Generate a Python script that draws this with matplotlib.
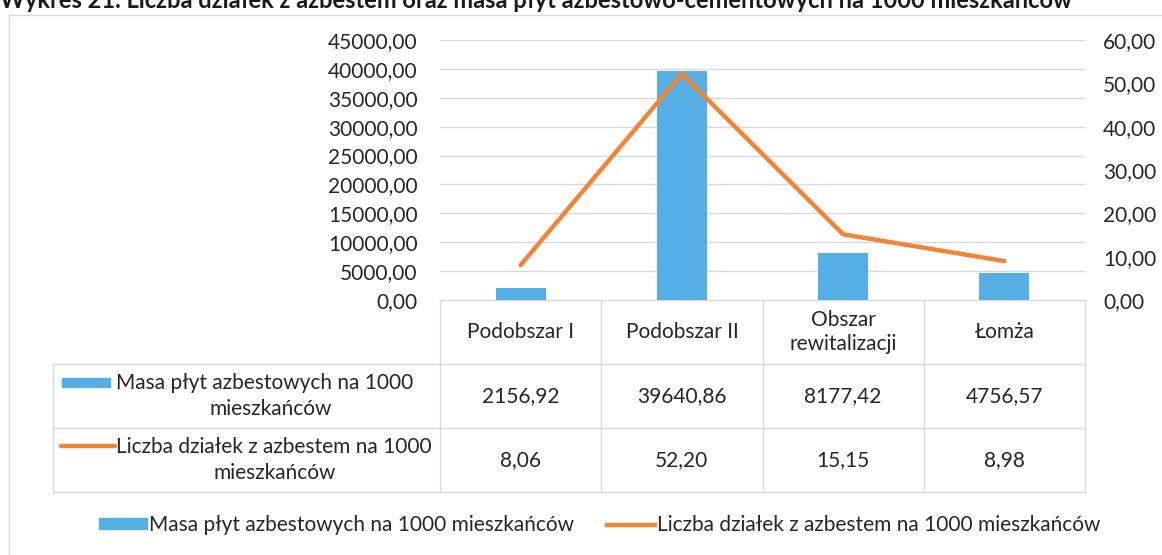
import matplotlib.pyplot as plt
from matplotlib.lines import Line2D
from matplotlib.patches import Patch, Rectangle

categories = ["Podobszar I", "Podobszar II", "Obszar\nrewitalizacji", "Łomża"]
masa = [2156.92, 39640.86, 8177.42, 4756.57]
dzialki = [8.06, 52.20, 15.15, 8.98]
masa_label = "Masa płyt azbestowych na 1000 mieszkańców"
dzialki_label = "Liczba działek z azbestem na 1000 mieszkańców"
title = ("Wykres 21. Liczba działek z azbestem oraz masa płyt "
         "azbestowo-cementowych na 1000 mieszkańców")

BLUE = "#55aee4"
ORANGE = "#ef8535"
GRID = "#d9d9d9"
TXT = "#262626"
W, H = 1162, 555

plt.rcParams["font.family"] = ["Lato", "DejaVu Sans"]
plt.rcParams["font.size"] = 15


def fmt(v):
    return f"{v:.2f}".replace(".", ",")


fig = plt.figure(figsize=(W / 100, H / 100), dpi=100)

# plot area in pixels
left, right, top, bottom = 440, 1085, 40, 300
ax = fig.add_axes([left / W, 1 - bottom / H, (right - left) / W, (bottom - top) / H])
x = range(len(categories))
ax.bar(x, masa, width=0.31, color=BLUE, zorder=2)
ax.set_xlim(-0.5, len(categories) - 0.5)
ax.set_ylim(0, 45000)
ax.set_yticks(range(0, 45001, 5000))
ax.set_yticklabels([fmt(v) for v in range(0, 45001, 5000)], color=TXT)
ax.set_xticks([])
ax.grid(axis="y", color=GRID, lw=1, zorder=0)
ax.tick_params(axis="y", length=0, pad=16)
for s in ax.spines.values():
    s.set_visible(False)

ax2 = ax.twinx()
ax2.plot(x, dzialki, color=ORANGE, lw=3.2, solid_capstyle="round", zorder=3)
ax2.set_ylim(0, 60)
ax2.set_yticks(range(0, 61, 10))
ax2.set_yticklabels([fmt(v) for v in range(0, 61, 10)], color=TXT)
ax2.tick_params(axis="y", length=0, pad=13)
for s in ax2.spines.values():
    s.set_visible(False)

# overlay in pixel coordinates for the data table, border and title
ov = fig.add_axes([0, 0, 1, 1], zorder=-1)
ov.set_xlim(0, W)
ov.set_ylim(H, 0)
ov.axis("off")
ov.patch.set_alpha(0)

# chart border
ov.plot([9, W], [15, 15], color=GRID, lw=1)
ov.plot([9, 9], [15, H], color=GRID, lw=1)

ov.text(0, 8, title, fontsize=17, fontweight="bold", color="#1a1a1a",
        ha="left", va="baseline", clip_on=False)

ncol = len(categories)
colw = (right - left) / ncol
edges = [left + i * colw for i in range(ncol + 1)]
rows = [bottom, 364, 428, 492]
lab_left = 53

for e in edges:
    ov.plot([e, e], [rows[0], rows[-1]], color=GRID, lw=1)
ov.plot([left, right], [rows[0], rows[0]], color=GRID, lw=1)
for r in rows[1:]:
    ov.plot([lab_left, right], [r, r], color=GRID, lw=1)
ov.plot([lab_left, lab_left], [rows[1], rows[-1]], color=GRID, lw=1)

for i, cat in enumerate(categories):
    cx = (edges[i] + edges[i + 1]) / 2
    ov.text(cx, (rows[0] + rows[1]) / 2, cat, ha="center", va="center",
            color=TXT, linespacing=1.2)
    ov.text(cx, (rows[1] + rows[2]) / 2, fmt(masa[i]), ha="center",
            va="center", color=TXT)
    ov.text(cx, (rows[2] + rows[3]) / 2, fmt(dzialki[i]), ha="center",
            va="center", color=TXT)

# row labels with legend keys
r1 = (rows[1] + rows[2]) / 2
r2 = (rows[2] + rows[3]) / 2
ov.add_patch(Rectangle((62, 378), 48, 9, color=BLUE))
ov.text(116, r1 - 13, "Masa płyt azbestowych na 1000", ha="left",
        va="center", color=TXT)
ov.text(271, r1 + 13, "mieszkańców", ha="center", va="center", color=TXT)
ov.plot([61, 115], [r2 - 14, r2 - 14], color=ORANGE, lw=3.2,
        solid_capstyle="round")
ov.text(116, r2 - 13, "Liczba działek z azbestem na 1000", ha="left",
        va="center", color=TXT)
ov.text(275, r2 + 13, "mieszkańców", ha="center", va="center", color=TXT)

handles = [Patch(color=BLUE), Line2D([], [], color=ORANGE, lw=3.2)]
fig.legend(handles, [masa_label, dzialki_label], loc="center",
           bbox_to_anchor=(600 / W, 1 - 525 / H), ncol=2, frameon=False,
           handlelength=2.3, handleheight=0.4, handletextpad=0.1,
           columnspacing=1.6, labelcolor=TXT)

fig.savefig("out.png", dpi=100)
